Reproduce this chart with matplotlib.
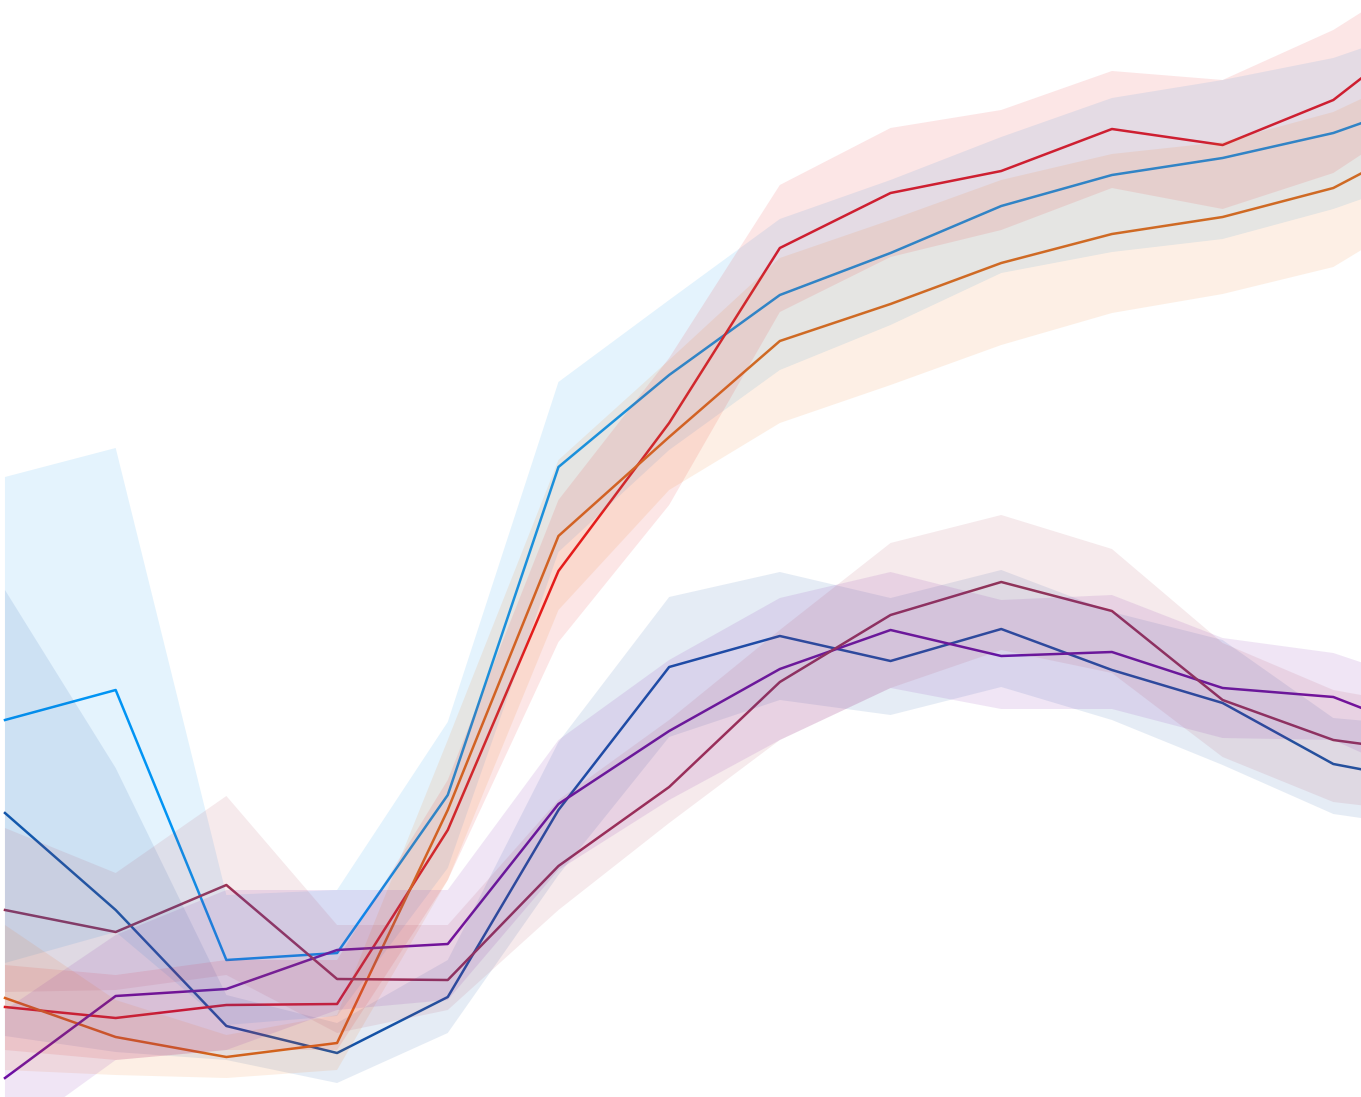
import numpy as np
import matplotlib.pyplot as plt

# x positions (time steps), last one sits just past the right edge
steps = np.arange(14)

# values (depth from the top edge, so axis is inverted)
sky_mid = [720, 690, 960, 953, 795, 467, 375, 295, 253, 206, 175, 158, 133, 94]
sky_up = [477, 448, 895, 890, 722, 382, 300, 219, 180, 137, 98, 80, 58, 20]
sky_lo = [963, 932, 1025, 1016, 868, 552, 450, 370, 325, 273, 252, 239, 209, 170]

navy_mid = [813, 910, 1026, 1053, 997, 810, 667, 636, 661, 629, 670, 703, 764, 785]
navy_up = [590, 768, 995, 1023, 960, 742, 597, 572, 598, 570, 612, 640, 718, 728]
navy_lo = [1036, 1052, 1060, 1083, 1033, 875, 737, 700, 715, 687, 720, 765, 814, 830]

red_mid = [1007, 1018, 1005, 1004, 830, 571, 423, 248, 193, 171, 129, 145, 100, 14]
red_up = [965, 975, 960, 960, 780, 500, 358, 185, 128, 110, 71, 80, 30, -40]
red_lo = [1050, 1060, 1050, 1050, 880, 642, 505, 312, 257, 230, 188, 209, 173, 100]

orange_mid = [998, 1037, 1057, 1043, 810, 536, 437, 341, 304, 263, 234, 217, 188, 130]
orange_up = [925, 1000, 1035, 1015, 740, 460, 360, 258, 220, 180, 154, 142, 112, 60]
orange_lo = [1070, 1075, 1078, 1070, 880, 610, 490, 423, 385, 345, 313, 294, 267, 200]

purple_mid = [1078, 996, 989, 950, 944, 804, 731, 669, 630, 656, 652, 688, 697, 740]
purple_up = [1010, 935, 890, 890, 890, 740, 660, 598, 572, 600, 595, 638, 653, 690]
purple_lo = [1140, 1060, 1050, 1010, 1000, 870, 800, 740, 688, 709, 709, 738, 740, 790]

maroon_mid = [910, 932, 885, 979, 980, 866, 787, 682, 615, 582, 611, 700, 740, 755]
maroon_up = [828, 873, 796, 925, 925, 800, 720, 630, 543, 515, 549, 643, 690, 710]
maroon_lo = [992, 990, 975, 1033, 1010, 910, 823, 740, 688, 650, 673, 757, 802, 815]

series = [
    (sky_mid, sky_up, sky_lo, '#0094f5', '#0a96ee'),
    (navy_mid, navy_up, navy_lo, '#1452a6', '#1a55a8'),
    (red_mid, red_up, red_lo, '#e3121c', '#ea1c22'),
    (orange_mid, orange_up, orange_lo, '#e5640f', '#f07414'),
    (purple_mid, purple_up, purple_lo, '#6a0da3', '#7a1aa8'),
    (maroon_mid, maroon_up, maroon_lo, '#9b2f52', '#b04058'),
]

fig = plt.figure(figsize=(13.61, 10.97), dpi=100)
ax = fig.add_axes([0, 0, 1, 1])

# lines first, the shaded bands sit over them
for mid, up, lo, line_c, band_c in series:
    ax.plot(steps, mid, color=line_c, lw=1.8, zorder=1)
for mid, up, lo, line_c, band_c in series:
    ax.fill_between(steps, up, lo, color=band_c, alpha=0.11, lw=0, zorder=2)

ax.set_xlim(-0.045, 12.25)
ax.set_ylim(1097, 0)
ax.axis('off')

fig.savefig('out.png', dpi=100)
